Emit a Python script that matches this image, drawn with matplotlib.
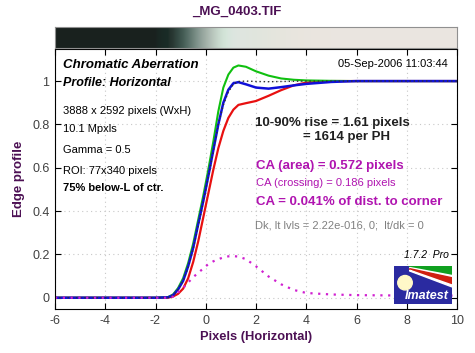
import numpy as np
import matplotlib
matplotlib.use('Agg')
from matplotlib import pyplot as plt
from matplotlib.patches import Polygon, Ellipse, Rectangle

plt.rcParams['font.family'] = ['Liberation Sans', 'DejaVu Sans']
plt.rcParams['axes.unicode_minus'] = False

# edge profile samples (pixels, horizontal)
x = [-6, -4, -2, -1.5, -1.3, -1.1, -0.9, -0.7, -0.5, -0.3, -0.1, 0.1, 0.3, 0.5,
     0.7, 0.9, 1.1, 1.3, 1.6, 2.0, 2.5, 3.0, 3.5, 4.0, 5.0, 6.0, 8.0, 10.0]
red = [0, 0, 0, 0.0, 0.006, 0.018, 0.042, 0.09, 0.165, 0.26, 0.37, 0.48, 0.59, 0.69,
       0.77, 0.83, 0.868, 0.89, 0.898, 0.908, 0.932, 0.958, 0.98, 0.993, 1.0, 1.0, 1.0, 1.0]
green = [0, 0, 0, 0.003, 0.015, 0.045, 0.09, 0.16, 0.25, 0.36, 0.47, 0.59, 0.72, 0.86,
         0.97, 1.03, 1.062, 1.072, 1.066, 1.045, 1.025, 1.012, 1.006, 1.003, 1.001, 1.0, 1.0, 1.0]
blue = [0, 0, 0, 0.002, 0.012, 0.038, 0.078, 0.145, 0.23, 0.34, 0.445, 0.56, 0.68, 0.80,
        0.90, 0.96, 0.99, 0.995, 0.985, 0.97, 0.965, 0.972, 0.98, 0.987, 0.996, 1.0, 1.0, 1.0]
lum = [0, 0, 0, 0.002, 0.012, 0.037, 0.077, 0.14, 0.225, 0.33, 0.44, 0.555, 0.675, 0.80,
       0.89, 0.95, 0.985, 0.998, 1.0, 0.998, 0.997, 0.998, 0.999, 1.0, 1.0, 1.0, 1.0, 1.0]
ca_diff = [0, 0, 0, 0.0, 0.005, 0.025, 0.045, 0.07, 0.095, 0.115, 0.135, 0.155, 0.168, 0.178,
           0.186, 0.191, 0.192, 0.19, 0.178, 0.145, 0.098, 0.062, 0.036, 0.022, 0.015, 0.012, 0.01, 0.01]

xticks = [-6, -4, -2, 0, 2, 4, 6, 8, 10]
yticks = [0, 0.2, 0.4, 0.6, 0.8, 1]
ytick_labels = ['0', '0.2', '0.4', '0.6', '0.8', '1']

W, H = 475, 353
fig = plt.figure(figsize=(W / 100, H / 100), dpi=100)
fig.patch.set_facecolor('white')

purple = '#4c1054'
ax = fig.add_axes([55 / W, 1 - 309 / H, 402 / W, 260 / H])
ax.set_xlim(-6, 10)
ax.set_ylim(-0.052, 1.148)

ax.plot(x, red, color='#e81010', lw=1.6)
ax.plot(x, green, color='#10c010', lw=1.5)
ax.plot(x, blue, color='#1010d8', lw=1.8)
ax.plot(x, lum, color='#303030', lw=1.0, ls=(0, (1, 2)))
ax.plot(x, ca_diff, color='#d020d0', lw=1.6, ls=(0, (1, 2.5)))

ax.set_xticks(xticks)
ax.set_yticks(yticks)
ax.set_yticklabels(ytick_labels)
ax.tick_params(direction='in', top=True, right=True, length=4, labelsize=9,
               labelcolor='#404040', pad=4)
ax.grid(True, color='#c8c8c8', ls=(0, (1, 3)), lw=0.8)
ax.set_axisbelow(True)
ax.set_xlabel('Pixels (Horizontal)', fontsize=9.3, fontweight='bold', color=purple, labelpad=3)
ax.set_ylabel('Edge profile', fontsize=9.5, fontweight='bold', color=purple, labelpad=5)

# image strip above the plot
sx = np.linspace(-6, 10, 400)
vals = [np.clip(np.interp(sx, x, c), 0, 1) ** 0.5 for c in (red, green, blue)]
dark = np.array([0.10, 0.13, 0.12])
light = np.array([0.92, 0.90, 0.88])
rgb = np.stack([dark[i] + (light[i] - dark[i]) * vals[i] for i in range(3)], axis=-1)
rgb = np.clip(rgb, 0, 1)[None, :, :]
sax = fig.add_axes([55 / W, 1 - 48 / H, 402 / W, 21 / H])
sax.imshow(rgb, aspect='auto', extent=[-6, 10, 0, 1], interpolation='bilinear')
sax.set_xticks([])
sax.set_yticks([])
for s in sax.spines.values():
    s.set_color('#909090')

fig.text(237 / W, 1 - 12 / H, '_MG_0403.TIF', ha='center', va='center',
         fontsize=9.5, fontweight='bold', color=purple)

def atext(px, py, s, **kw):
    ax.text((px - 55) / 402, (309 - py) / 260, s, transform=ax.transAxes,
            va='center', **kw)

atext(63, 65, 'Chromatic Aberration', fontsize=9.5, fontweight='bold', style='italic')
atext(63, 83, 'Profile: Horizontal', fontsize=9, fontweight='bold', style='italic')
atext(448, 64, '05-Sep-2006 11:03:44', fontsize=8, ha='right')
atext(63, 111, '3888 x 2592 pixels (WxH)', fontsize=8)
atext(63, 129, '10.1 Mpxls', fontsize=8)
atext(63, 150, 'Gamma = 0.5', fontsize=8)
atext(63, 171, 'ROI: 77x340 pixels', fontsize=8)
atext(63, 188, '75% below-L of ctr.', fontsize=8, fontweight='bold')

atext(255, 123, '10-90% rise = 1.61 pixels', fontsize=9.5, fontweight='bold', color='#202020')
atext(303, 137, '= 1614 per PH', fontsize=9.5, fontweight='bold', color='#202020')
mag = '#b014b0'
atext(256, 166, 'CA (area) = 0.572 pixels', fontsize=9.5, fontweight='bold', color=mag)
atext(256, 183, 'CA (crossing) = 0.186 pixels', fontsize=8, color=mag)
atext(256, 202, 'CA = 0.041% of dist. to corner', fontsize=9.5, fontweight='bold', color=mag)
atext(255, 225, 'Dk, lt lvls = 2.22e-016, 0;  lt/dk = 0', fontsize=8, color='#808080')
atext(449, 255, '1.7.2  Pro', fontsize=7.5, style='italic', ha='right')

# logo
lax = fig.add_axes([394 / W, 1 - 304 / H, 58 / W, 38 / H])
lax.set_xlim(0, 1)
lax.set_ylim(0, 1)
lax.axis('off')
lax.add_patch(Rectangle((0, 0), 1, 1, color='#2a2aa0'))
lax.add_patch(Polygon([(0.27, 1), (1, 1), (1, 0.76), (0.27, 0.97)], color='#10a020'))
lax.add_patch(Polygon([(0.27, 0.96), (1, 0.75), (1, 0.69), (0.27, 0.93)], color='white'))
lax.add_patch(Polygon([(0.27, 0.93), (1, 0.69), (1, 0.52), (0.27, 0.90)], color='#d02010'))
lax.add_patch(Polygon([(0.27, 0.89), (1, 0.50), (1, 0.45), (0.27, 0.87)], color='white'))
lax.add_patch(Ellipse((0.19, 0.56), 0.25, 0.38, color='#fff8c8'))
lax.text(0.57, 0.2, 'Imatest', color='white', fontsize=9, fontweight='bold',
         style='italic', ha='center', va='center')

fig.savefig('out.png', dpi=100)
